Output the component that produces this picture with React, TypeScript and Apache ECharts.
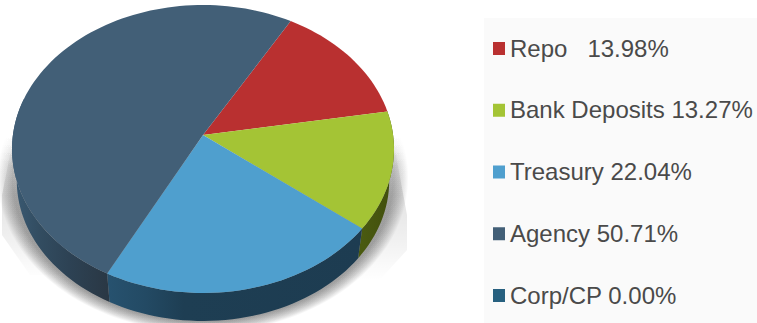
import React, { useEffect, useRef } from "react";
import * as echarts from "echarts";

const categories = ["Repo", "Bank Deposits", "Treasury", "Agency", "Corp/CP"];
const shares = [13.98, 13.27, 22.04, 50.71, 0.0];
const shareLabels = ["13.98%", "13.27%", "22.04%", "50.71%", "0.00%"];
const labelGaps = ["   ", " ", " ", " ", " "];
const topColors = ["#b93030", "#a4c435", "#4f9fce", "#425f77", "#27607f"];
const wallStops: [number, string][][] = [
  [[0, "#7a1f1f"], [1, "#7a1f1f"]],
  [[0, "#4a5a10"], [1, "#404e0d"]],
  [[0, "#27526f"], [0.15, "#234a64"], [0.3, "#1e3e53"], [1, "#1d3c51"]],
  [[0, "#3a5a73"], [0.3, "#324c60"], [0.6, "#2d4254"], [1, "#2a3845"]],
  [[0, "#1d3c51"], [1, "#1d3c51"]],
];
const swatchColors = ["#b93030", "#a4c435", "#4f9fce", "#425f77", "#27607f"];
const hazeLayers = [15, 14, 13, 12, 11, 10, 9, 8, 7, 6, 5, 4, 3, 2, 1];
const flareOutlines = [
  [[13, 140], [2, 195], [2, 235], [30, 275], [60, 275], [40, 140]],
  [[395, 150], [407, 215], [407, 250], [375, 285], [340, 285], [370, 150]],
];

const START_DEG = 30;
const HUB = { x: 203, y: 135 };
const SKEW = 0.0972;
const SCALE_X = 190.1;
const SCALE_Y = 142.6;
const ELLIPSE_CY = 149;
const WALL_SHRINK = 0.975;
const WALL_DROP = 31.6;

// Projects a disc angle (clockwise from the top) onto the tilted pie face.
function rim(deg: number): [number, number] {
  const a = (deg * Math.PI) / 180;
  const u = Math.sin(a);
  const v = Math.cos(a);
  const w = 1 + SKEW * v;
  return [HUB.x + (SCALE_X * u) / w, HUB.y - (SCALE_Y * v) / w];
}

function rimLow(deg: number): [number, number] {
  const [x, y] = rim(deg);
  return [
    HUB.x + (x - HUB.x) * WALL_SHRINK,
    ELLIPSE_CY + (y - ELLIPSE_CY) * WALL_SHRINK + WALL_DROP,
  ];
}

function arcPoints(from: number, to: number, fn: (d: number) => [number, number]) {
  const n = Math.max(2, Math.ceil(Math.abs(to - from) / 2));
  const pts: [number, number][] = [];
  for (let i = 0; i <= n; i++) pts.push(fn(from + ((to - from) * i) / n));
  return pts;
}

function sliceRange(index: number): [number, number] {
  const total = shares.reduce((s, v) => s + v, 0);
  const before = shares.slice(0, index).reduce((s, v) => s + v, 0);
  return [
    START_DEG + (before / total) * 360,
    START_DEG + ((before + shares[index]) / total) * 360,
  ];
}

const renderWall = (params: any, api: any) => {
  const i = params.dataIndex;
  if (api.value(0) <= 0) return { type: "group", children: [] };
  const [a0, a1] = sliceRange(i);
  const from = Math.max(a0, 80);
  const to = Math.min(a1, 285);
  if (to <= from) return { type: "group", children: [] };
  const upper = arcPoints(from, to, rim);
  const lower = arcPoints(from, to, rimLow).reverse();
  const xs = upper.map((p) => p[0]);
  const left = Math.min(...xs);
  const right = Math.max(...xs);
  return {
    type: "polygon",
    shape: { points: [...upper, ...lower] },
    style: {
      fill: new echarts.graphic.LinearGradient(
        left, 0, right, 0,
        wallStops[i].map(([offset, color]) => ({ offset, color })),
        true
      ),
    },
  };
};

const renderTop = (params: any, api: any) => {
  const i = params.dataIndex;
  if (api.value(0) <= 0) return { type: "group", children: [] };
  const [a0, a1] = sliceRange(i);
  return {
    type: "polygon",
    shape: { points: [[HUB.x, HUB.y], ...arcPoints(a0, a1, rim)] },
    style: { fill: topColors[i] },
  };
};

// The cast shadow is a stack of faint ellipses, outermost first, fading out upward.
const renderHaze = (params: any) => {
  const t = hazeLayers[params.dataIndex];
  return {
    type: "ellipse",
    shape: { cx: 203, cy: 178, rx: 190 + t, ry: 143 + t * 0.75 },
    style: {
      fill: new echarts.graphic.LinearGradient(
        0, 135, 0, 290,
        [
          { offset: 0, color: "rgba(0,0,0,0)" },
          { offset: 0.2, color: "rgba(0,0,0,0.018)" },
          { offset: 0.5, color: "rgba(0,0,0,0.026)" },
          { offset: 1, color: "rgba(0,0,0,0.032)" },
        ],
        true
      ),
    },
  };
};

// Pale wedges that widen the shadow on either side of the pie.
const renderFlare = (params: any) => ({
  type: "polygon",
  shape: { points: flareOutlines[params.dataIndex] },
  style: {
    fill: new echarts.graphic.LinearGradient(
      0, 140, 0, 280,
      [
        { offset: 0, color: "rgba(0,0,0,0)" },
        { offset: 0.4, color: "rgba(0,0,0,0.11)" },
        { offset: 0.7, color: "rgba(0,0,0,0.06)" },
        { offset: 1, color: "rgba(0,0,0,0)" },
      ],
      true
    ),
  },
});

export default function App() {
  const ref = useRef<HTMLDivElement>(null);
  useEffect(() => {
    document.body.style.margin = "0";
    document.body.style.background = "#ffffff";
    const chart = echarts.init(ref.current!, undefined, { renderer: "svg" });
    const data = shares.map((v, i) => ({ name: categories[i], value: [v] }));
    const rowY = (i: number) => 48 + i * 61.75;
    chart.setOption({
      animation: false,
      backgroundColor: "#ffffff",
      graphic: [
        {
          type: "rect",
          z: 5,
          shape: { x: 484, y: 18, width: 273, height: 305 },
          style: { fill: "#fafafa" },
        },
        ...categories.flatMap((name, i) => [
          {
            type: "rect",
            z: 6,
            shape: { x: 493, y: rowY(i) - 6, width: 12, height: 13 },
            style: { fill: swatchColors[i] },
          },
          {
            type: "text",
            z: 6,
            x: 510,
            y: rowY(i),
            style: {
              text: `${name}${labelGaps[i]}${shareLabels[i]}`,
              font: "24px 'Liberation Sans', Arial, sans-serif",
              fill: "#4a4a4a",
              textVerticalAlign: "middle",
            },
          },
        ]),
      ],
      series: [
        {
          type: "custom",
          coordinateSystem: "none",
          z: 1,
          silent: true,
          data: flareOutlines.map((_, i) => [i]),
          renderItem: renderFlare,
        },
        {
          type: "custom",
          coordinateSystem: "none",
          z: 1,
          silent: true,
          data: hazeLayers.map((t) => [t]),
          renderItem: renderHaze,
        },
        { type: "custom", coordinateSystem: "none", z: 2, silent: true, data, renderItem: renderWall },
        { type: "custom", coordinateSystem: "none", z: 3, silent: true, data, renderItem: renderTop },
      ],
    });
    return () => chart.dispose();
  }, []);
  return <div ref={ref} style={{ width: 757, height: 323 }} />;
}
